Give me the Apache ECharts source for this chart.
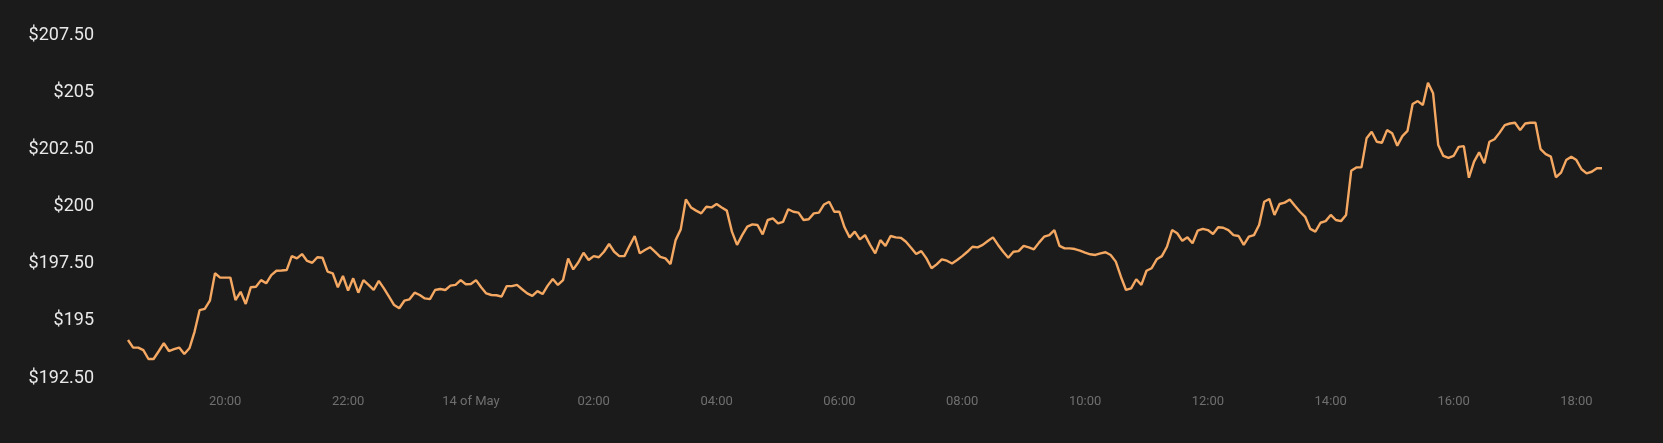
<!DOCTYPE html>
<html>
<head>
<meta charset="utf-8">
<script src="https://cdn.jsdelivr.net/npm/echarts@6/dist/echarts.min.js"></script>
<style>
html,body{margin:0;padding:0;background:#1c1b1c;}
#chart{width:1663px;height:443px;}
</style>
</head>
<body>
<div id="chart"></div>
<script>
// Time of first sample, in minutes relative to midnight of 14 May (13 May 18:25)
const startMinute = -335;
const stepMinutes = 5;
const prices = [
194.16,193.83,193.83,193.72,193.33,193.33,193.67,194.02,193.68,193.76,
193.83,193.55,193.80,194.52,195.47,195.52,195.88,197.08,196.89,196.89,
196.89,195.91,196.27,195.74,196.47,196.49,196.78,196.64,197.00,197.19,
197.20,197.22,197.83,197.73,197.92,197.62,197.54,197.78,197.76,197.15,
197.08,196.47,196.96,196.32,196.86,196.23,196.78,196.57,196.35,196.75,
196.42,196.06,195.69,195.55,195.88,195.94,196.23,196.13,195.98,195.95,
196.35,196.39,196.35,196.54,196.57,196.78,196.60,196.61,196.78,196.47,
196.20,196.13,196.12,196.06,196.52,196.52,196.57,196.38,196.20,196.09,
196.30,196.17,196.54,196.83,196.57,196.78,197.73,197.25,197.56,197.98,
197.66,197.83,197.78,198.02,198.36,198.02,197.83,197.83,198.28,198.71,
197.95,198.10,198.22,198.02,197.80,197.73,197.48,198.53,199.00,200.31,
199.96,199.82,199.70,199.99,199.96,200.11,199.96,199.82,198.90,198.32,
198.75,199.12,199.22,199.19,198.78,199.41,199.48,199.26,199.33,199.88,
199.77,199.73,199.41,199.44,199.70,199.73,200.09,200.21,199.77,199.77,
199.09,198.65,198.90,198.56,198.75,198.32,197.95,198.53,198.28,198.71,
198.65,198.63,198.46,198.20,197.92,198.05,197.73,197.30,197.47,197.69,
197.63,197.51,197.66,197.83,198.02,198.24,198.21,198.32,198.49,198.65,
198.32,198.02,197.76,198.02,198.05,198.28,198.21,198.13,198.42,198.68,
198.75,198.97,198.28,198.17,198.17,198.14,198.07,197.98,197.91,197.88,
197.95,198.00,197.88,197.59,196.93,196.35,196.42,196.82,196.57,197.19,
197.30,197.69,197.83,198.24,198.97,198.83,198.50,198.65,198.39,198.94,
199.02,198.97,198.80,199.09,199.07,198.97,198.75,198.71,198.32,198.68,
198.75,199.19,200.21,200.33,199.63,200.11,200.17,200.31,200.03,199.77,
199.55,199.02,198.90,199.29,199.36,199.63,199.41,199.36,199.63,201.56,
201.71,201.71,202.98,203.27,202.83,202.79,203.34,203.20,202.66,203.08,
203.31,204.48,204.61,204.44,205.41,204.95,202.69,202.21,202.13,202.21,
202.61,202.64,201.26,201.96,202.37,201.89,202.83,202.94,203.23,203.56,
203.63,203.66,203.34,203.63,203.66,203.66,202.51,202.29,202.18,201.28,
201.48,202.03,202.18,202.03,201.63,201.45,201.52,201.67,201.67
];
// x tick positions (minutes relative to midnight 14 May) and their labels
const xTickMinutes = [-240,-120,0,120,240,360,480,600,720,840,960,1080];
const xTickLabels = ['20:00','22:00','14 of May','02:00','04:00','06:00','08:00','10:00','12:00','14:00','16:00','18:00'];
const yMin = 192.5, yMax = 207.5, yStep = 2.5;

const seriesData = prices.map((v, i) => [startMinute + i * stepMinutes, v]);
const endMinute = startMinute + (prices.length - 1) * stepMinutes;

const chart = echarts.init(document.getElementById('chart'), null, {renderer: 'canvas'});
chart.setOption({
  backgroundColor: '#1c1b1c',
  animation: false,
  grid: {left: 128, right: 61, top: 35, bottom: 65, containLabel: false},
  xAxis: {
    type: 'value',
    min: startMinute,
    max: endMinute,
    axisLine: {show: false},
    axisTick: {show: false},
    splitLine: {show: false},
    axisLabel: {
      customValues: xTickMinutes,
      color: '#6f6f6f',
      fontFamily: 'Roboto',
      fontSize: 13,
      margin: 17,
      formatter: function (v) {
        const idx = xTickMinutes.indexOf(Math.round(v));
        return idx >= 0 ? xTickLabels[idx] : '';
      }
    }
  },
  yAxis: {
    type: 'value',
    min: yMin,
    max: yMax,
    interval: yStep,
    axisLine: {show: false},
    axisTick: {show: false},
    splitLine: {show: false},
    axisLabel: {
      color: '#e8e8e8',
      fontFamily: 'Roboto',
      fontSize: 18,
      margin: 34,
      formatter: function (v) {
        return '$' + (Number.isInteger(v) ? String(v) : v.toFixed(2));
      }
    }
  },
  series: [{
    type: 'line',
    data: seriesData,
    showSymbol: false,
    smooth: false,
    lineStyle: {color: '#f4a862', width: 2.4},
    itemStyle: {color: '#f4a862'}
  }]
});
</script>
</body>
</html>
